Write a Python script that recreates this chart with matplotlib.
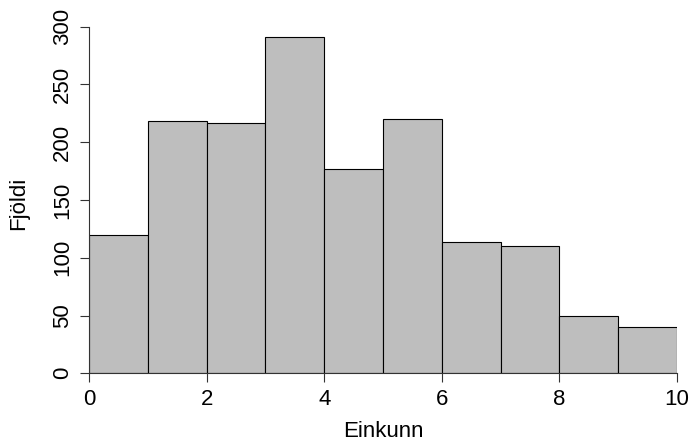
import matplotlib
matplotlib.use("Agg")
import matplotlib.pyplot as plt
import numpy as np

# Data
bin_edges = [0, 1, 2, 3, 4, 5, 6, 7, 8, 9, 10]
counts = [120, 218, 217, 291, 177, 220, 114, 110, 50, 40]
x_ticks = [0, 2, 4, 6, 8, 10]
y_ticks = [0, 50, 100, 150, 200, 250, 300]
x_label = "Einkunn"
y_label = "Fjöldi"

plt.rcParams['font.family'] = ['Liberation Sans', 'DejaVu Sans']

W, H = 689, 441
fig = plt.figure(figsize=(W / 100, H / 100), dpi=100)
left, right, top, bottom = 89, 677, 26.7, 373.3
ax = fig.add_axes([left / W, 1 - bottom / H, (right - left) / W, (bottom - top) / H])

lefts = np.array(bin_edges[:-1])
widths = np.diff(bin_edges)
ax.bar(lefts, counts, width=widths, align='edge', color='#BEBEBE',
       edgecolor='black', linewidth=0.8)

ax.set_xlim(0, 10)
ax.set_ylim(0, 300)
ax.set_xticks(x_ticks)
ax.set_yticks(y_ticks)
ax.set_xticklabels([str(v) for v in x_ticks])
ax.set_yticklabels([str(v) for v in y_ticks], rotation=90, va='center')
for s in ['top', 'right']:
    ax.spines[s].set_visible(False)
for s in ['left', 'bottom']:
    ax.spines[s].set_linewidth(0.8)
    ax.spines[s].set_color('#333333')
ax.tick_params(axis='both', direction='out', length=6.5, width=0.8,
               color='#333333', labelsize=16, pad=5)

fig.text(383 / W, 3.7 / H, x_label, ha='center', va='baseline', fontsize=16)
fig.text(18.5 / W, 1 - 203 / H, y_label, ha='center', va='center',
         rotation=90, fontsize=16)

fig.savefig("out.png", dpi=100)
